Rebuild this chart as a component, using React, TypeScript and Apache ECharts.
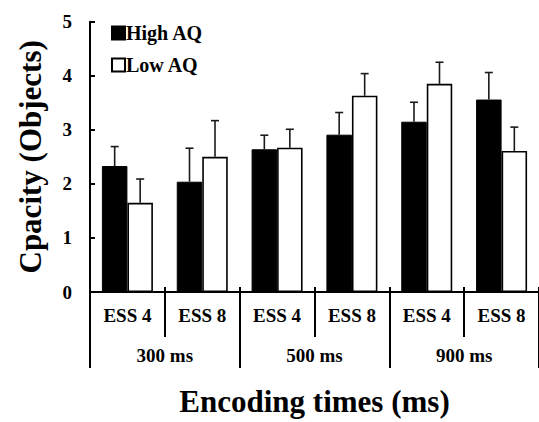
import React, { useEffect, useRef } from "react";
import * as echarts from "echarts";

const categories = ["ESS 4", "ESS 8", "ESS 4", "ESS 8", "ESS 4", "ESS 8"];
const groups = ["300 ms", "500 ms", "900 ms"];
const yTicks = [0, 1, 2, 3, 4, 5];
const highAQ = [2.33, 2.04, 2.64, 2.91, 3.15, 3.56];
const lowAQ = [1.65, 2.5, 2.67, 3.63, 3.85, 2.61];
const highErr = [0.36, 0.62, 0.26, 0.41, 0.36, 0.5];
const lowErr = [0.44, 0.67, 0.34, 0.41, 0.4, 0.44];

const FONT = "'Liberation Serif', 'Times New Roman', serif";
const BAR_W = 25.5;

function errorSeries(name: string, means: number[], errs: number[], offset: number) {
  return {
    type: "custom",
    name,
    xAxisIndex: 0,
    yAxisIndex: 0,
    z: 5,
    silent: true,
    data: means.map((m, i) => [i, m, errs[i]]),
    renderItem: (params: any, api: any) => {
      const i = api.value(0);
      const m = api.value(1);
      const e = api.value(2);
      const base = api.coord([i, m]);
      const top = api.coord([i, m + e]);
      const cx = base[0] + offset;
      const style = { stroke: "#1a1a1a", lineWidth: 1.6 };
      return {
        type: "group",
        children: [
          { type: "line", shape: { x1: cx, y1: base[1], x2: cx, y2: top[1] }, style },
          { type: "line", shape: { x1: cx - 4, y1: top[1], x2: cx + 4, y2: top[1] }, style },
        ],
      };
    },
  };
}

export default function App() {
  const ref = useRef<HTMLDivElement>(null);
  useEffect(() => {
    if (!ref.current) return;
    const chart = echarts.init(ref.current, null, { renderer: "svg" });
    const axisLine = { show: true, lineStyle: { color: "#000", width: 2 } };
    const labelFont = { fontFamily: FONT, fontSize: 19, fontWeight: "bold" as const, color: "#000" };
    chart.setOption({
      animation: false,
      backgroundColor: "#fff",
      textStyle: { fontFamily: FONT, color: "#000" },
      grid: { left: 90, top: 21.7, width: 451, height: 276 },
      legend: {
        orient: "vertical",
        left: 106,
        top: 18,
        itemWidth: 13,
        itemHeight: 13,
        itemGap: 12,
        icon: "rect",
        textStyle: { fontFamily: FONT, fontSize: 20, fontWeight: "bold", color: "#000", padding: [0, 0, 0, -4] },
        data: ["High AQ", "Low AQ"],
      },
      xAxis: [
        {
          type: "category",
          data: categories,
          position: "bottom",
          axisLine,
          axisTick: { show: true, length: 45, interval: 0, lineStyle: { color: "#000", width: 2 } },
          axisLabel: { interval: 0, margin: 14, ...labelFont },
          splitLine: { show: false },
        },
        {
          type: "category",
          data: groups,
          position: "bottom",
          axisLine: { show: false },
          axisTick: { show: true, length: 76, interval: 0, lineStyle: { color: "#000", width: 2 } },
          axisLabel: { interval: 0, margin: 54, ...labelFont },
          name: "Encoding times (ms)",
          nameLocation: "middle",
          nameGap: 94,
          nameTextStyle: { fontFamily: FONT, fontSize: 31, fontWeight: "bold", color: "#000" },
          splitLine: { show: false },
        },
        {
          type: "category",
          data: categories,
          position: "bottom",
          axisLine: { show: false },
          axisTick: { show: true, inside: true, length: 5, interval: 0, lineStyle: { color: "#000", width: 2 } },
          axisLabel: { show: false },
          splitLine: { show: false },
        },
      ],
      yAxis: {
        type: "value",
        min: yTicks[0],
        max: yTicks[yTicks.length - 1],
        interval: 1,
        axisLine,
        axisTick: { show: true, inside: true, length: 5, lineStyle: { color: "#000", width: 2 } },
        axisLabel: { margin: 18, ...labelFont },
        splitLine: { show: false },
        name: "Cpacity (Objects)",
        nameLocation: "middle",
        nameGap: 44,
        nameRotate: 90,
        nameTextStyle: { fontFamily: FONT, fontSize: 31, fontWeight: "bold", color: "#000" },
      },
      series: [
        {
          type: "bar",
          name: "High AQ",
          data: highAQ,
          barWidth: BAR_W,
          barGap: "0%",
          itemStyle: { color: "#000", borderColor: "#000", borderWidth: 1 },
        },
        {
          type: "bar",
          name: "Low AQ",
          data: lowAQ,
          barWidth: BAR_W,
          barGap: "0%",
          itemStyle: { color: "#fff", borderColor: "#000", borderWidth: 1.6 },
        },
        errorSeries("High AQ err", highAQ, highErr, -BAR_W / 2),
        errorSeries("Low AQ err", lowAQ, lowErr, BAR_W / 2),
      ],
    });
    return () => chart.dispose();
  }, []);
  return <div ref={ref} style={{ position: "absolute", left: 0, top: 0, width: 539, height: 422 }} />;
}
